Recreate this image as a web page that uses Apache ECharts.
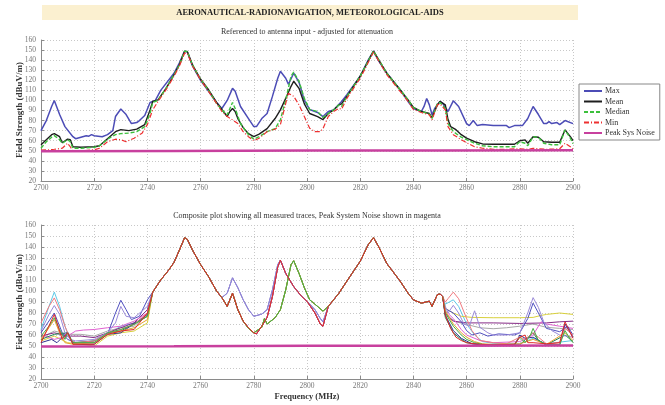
<!DOCTYPE html>
<html><head><meta charset="utf-8">
<script src="https://cdn.jsdelivr.net/npm/echarts@6/dist/echarts.min.js"></script>
<style>html,body{margin:0;padding:0;background:#fff}#c{width:665px;height:405px}</style>
</head><body><div id="c"></div>
<script>
// ---------- DATA ----------
const mainTitle = 'AERONAUTICAL-RADIONAVIGATION, METEOROLOGICAL-AIDS';
const topSubtitle = 'Referenced to antenna input - adjusted for attenuation';
const bottomSubtitle = 'Composite plot showing all measured traces, Peak System Noise shown in magenta';
const yAxisTitle = 'Field Strength (dBuV/m)';
const xAxisTitle = 'Frequency (MHz)';
const legendNames = ['Max', 'Mean', 'Median', 'Min', 'Peak Sys Noise'];

const maxTrace = [[2700,70],[2702,80],[2704,94],[2705,100],[2707,86],[2709,74],[2712,64],[2713,62],[2715,63.5],[2717,65],[2718,64.5],[2719,66],[2720,65],[2723,64],[2725,66],[2727,70],[2728,84],[2730,91.5],[2732,86],[2734,77],[2736,78],[2737,80],[2739,85],[2741,98],[2743,100],[2745,110],[2750,127],[2752,137],[2754,149],[2755,148],[2757,134],[2760,120],[2763,109],[2766,98],[2768,92],[2770,100],[2772,112],[2773,109],[2775,94],[2778,82],[2780,74],[2781,74],[2783,82],[2785,87],[2787,104],[2789,122],[2790,129],[2792,122],[2793,116],[2795,127],[2797,118],[2799,100],[2801,91],[2804,88],[2806,84],[2808,89],[2810,90.5],[2813,99],[2815,105.6],[2820,124],[2823,140],[2825,149],[2827,139],[2830,127],[2835,110.6],[2838,99],[2840,92],[2843,89],[2844,94],[2845,102],[2846,95.6],[2847,85.7],[2848,92],[2850,99],[2851,97],[2853,89],[2855,99.6],[2857,94],[2860,77],[2861,75],[2862.5,80],[2864,75],[2866,76],[2870,75],[2875,75],[2876,73],[2878,75],[2881,75],[2883,82],[2885,94],[2887,86],[2889,77],[2890,77],[2891,79],[2892,77],[2894,78],[2895,76],[2897,80],[2900,77]];
const meanTrace = [[2700,56],[2702,61],[2704,66],[2705,67],[2707,64],[2708,58],[2710,61.5],[2711,61],[2712,54],[2715,53.5],[2720,54],[2722,55],[2725,62],[2728,69],[2730,71],[2733,70],[2736,71.5],[2739,76],[2741,90.6],[2742,99],[2744,100.6],[2747,112],[2750,125.5],[2752,135.4],[2754,148.7],[2755,148.7],[2757,135],[2760,121],[2763,110.6],[2766,98],[2768,91],[2770,84],[2771,89],[2772,92],[2773,89],[2774,82],[2776,73],[2778,67],[2780,64],[2782,66.5],[2785,72],[2788,82],[2790,90.6],[2792,102],[2794,114],[2795,119],[2797,112],[2799,96.6],[2801,87],[2804,84],[2806,81],[2808,87],[2810,90.5],[2812,95.6],[2813,96.6],[2815,104],[2820,124],[2825,149],[2830,127],[2835,110.6],[2838,100.6],[2840,93],[2843,89],[2846,87],[2847,83],[2849,95.6],[2850,99],[2852,95.6],[2853,81],[2854,74],[2856,71],[2858,66],[2860,62.5],[2863,59],[2866,56.8],[2870,56.5],[2878,56.5],[2880,60],[2882,60.8],[2883,57.5],[2885,64],[2887,63.5],[2889,59],[2892,58.5],[2895,58.5],[2897,70.7],[2899,64],[2900,60]];
const medianTrace = [[2700,52.5],[2702,59],[2704,63.5],[2705,65],[2707,61],[2708,57.5],[2710,61],[2711,59],[2712,52.5],[2715,52.5],[2720,53.5],[2722,55],[2725,61.5],[2728,66],[2730,67],[2733,67.5],[2736,69],[2739,74],[2741,87],[2742,98],[2744,100],[2747,112],[2750,125.5],[2752,135],[2754,149],[2755,148.5],[2757,135],[2760,121],[2763,110],[2766,97],[2768,90.6],[2770,85.7],[2772,98],[2773,92],[2775,77],[2778,66],[2780,61.5],[2782,64],[2785,69],[2788,72],[2790,80.7],[2792,100.6],[2794,124],[2795,128],[2797,119],[2799,102],[2801,91],[2804,89],[2806,83],[2808,87],[2810,90.5],[2812,95.6],[2813,94],[2815,104],[2820,124],[2825,149],[2830,127],[2835,110.6],[2838,100.6],[2840,93],[2843,89],[2846,86.7],[2847,82],[2849,97],[2850,98],[2852,92],[2853,77],[2855,69],[2858,63.5],[2860,61],[2863,57.5],[2866,55],[2870,54],[2878,54],[2880,59],[2882,57.5],[2883,55],[2885,64],[2887,63.5],[2889,57.5],[2892,56],[2895,56],[2897,70.7],[2899,62.5],[2900,57]];
const minTrace = [[2700,50.8],[2703,51],[2705,51.5],[2708,52.5],[2710,57.5],[2711,54],[2712,50],[2715,50],[2720,51],[2722,52.5],[2725,59],[2728,61.5],[2730,61],[2732,59],[2735,62.5],[2738,67.5],[2740,76],[2742,90.6],[2744,99],[2747,110.6],[2750,124],[2752,134],[2754,147],[2755,147],[2757,134],[2760,120.5],[2763,109],[2766,97],[2768,89],[2770,84],[2772,80.7],[2774,77],[2776,69],[2778,64],[2780,60],[2782,62.5],[2785,69],[2788,71.4],[2790,76],[2792,97],[2793,107],[2795,104],[2797,95.6],[2799,84],[2801,72.4],[2803,69],[2805,69],[2806,72],[2808,84],[2810,89],[2812,92],[2813,91.3],[2815,102],[2820,122],[2825,148],[2830,125.5],[2835,109],[2838,99],[2840,91],[2843,88],[2846,85.7],[2847,80.7],[2849,95.6],[2850,96.6],[2852,90.6],[2853,74],[2855,66],[2858,61],[2860,58],[2863,54],[2866,52.5],[2870,51.5],[2875,51.5],[2880,52],[2883,51.5],[2885,52.5],[2890,51.5],[2895,52],[2897,57.5],[2899,54],[2900,51.5]];
const noiseTrace = [[2700,49.5],[2750,49.8],[2800,50.2],[2850,50.3],[2900,50.5]];

// Composite traces: segments
const riseCommon = [[2742,99],[2745,110],[2748,119],[2750,126],[2752,137],[2754,148.5],[2755,147],[2757,137],[2760,124],[2763,113],[2766,100],[2768,94]];
const midA = [[2770,98],[2772,112],[2774,103],[2776,92],[2778,83],[2780,77],[2783,79],[2785,83],[2787,101],[2789,124],[2790,128],[2792,116],[2795,104],[2798,95],[2800,90.7],[2803,83],[2805,75],[2806,72]];
const midB = [[2770,86],[2772,98],[2774,83],[2776,72.6],[2778,66.6],[2780,62],[2781,61],[2783,68],[2785,76],[2787,95],[2789,122],[2790,128],[2792,116],[2795,104],[2798,95],[2800,90.7],[2803,80],[2805,70],[2806,68]];
const midC = [[2770,86],[2772,98],[2774,83],[2776,72.6],[2778,66],[2780,62],[2783,67],[2784,75],[2785,70],[2788,75.7],[2790,83],[2792,101],[2794,124],[2795,127.5],[2797,116],[2799,103],[2801,92],[2803,88],[2806,81.7]];
const secondCommon = [[2808,86],[2810,92],[2812,98],[2815,109],[2820,127],[2823,142],[2825,148.5],[2827,140],[2830,125],[2835,109],[2838,98],[2840,92],[2843,89],[2846,90.7],[2847,86],[2849,96.7],[2850,97.3],[2851,95]];

const cyanLeft = [[2700,65],[2703,86],[2705,99],[2707,86],[2709,68],[2711,56],[2713,53],[2720,54.6],[2725,60.6],[2730,68],[2735,71],[2740,83]];
const cyanRight = [[2852,88],[2855,92],[2857,86],[2860,70],[2863,60],[2866,54],[2870,52.5],[2880,52],[2885,57],[2890,52],[2900,55]];
const pinkLeft = [[2700,71],[2703,86],[2705,93.7],[2707,83],[2709,68],[2711,56],[2713,53],[2720,54.6],[2725,62],[2730,65],[2735,69.6],[2740,80]];
const pinkRight = [[2852,90],[2853,93],[2855,99],[2857,93],[2860,75],[2862,64],[2865,55],[2870,53],[2875,52],[2880,58],[2882,56],[2885,62],[2887,58],[2890,52],[2895,53],[2897,66],[2900,60]];
const purpleLeft = [[2700,63.6],[2703,78.7],[2705,86.8],[2707,78.7],[2709,62],[2711,56],[2713,54.6],[2720,56],[2725,62],[2728,71],[2730,86],[2732,77],[2735,75.7],[2740,86]];
const purpleRight = [[2852,86],[2853,80],[2855,87],[2857,80],[2859,70],[2861,68],[2863,82],[2865,67],[2868,62],[2870,60],[2875,60],[2880,62],[2883,80],[2885,94],[2887,85],[2889,72],[2892,64],[2895,60],[2900,58]];
const blueLeft = [[2700,62],[2705,80],[2708,62],[2710,56],[2713,53],[2720,53],[2725,60.6],[2728,80],[2730,91.6],[2732,83],[2734,74],[2737,77],[2740,92]];
const blueRight = [[2852,84],[2855,80],[2858,72],[2860,64],[2862,60],[2865,62],[2868,59],[2872,61],[2878,60],[2880,62],[2883,75],[2885,89],[2887,80],[2890,66],[2895,63],[2898,68],[2900,60]];
const greenLeft = [[2700,59],[2703,68],[2705,75.7],[2707,65],[2709,56],[2710,62],[2712,53],[2720,53],[2725,62],[2730,65],[2735,69.6],[2740,77]];
const greenRight = [[2852,80],[2855,68],[2858,60],[2860,56],[2863,53],[2866,51.5],[2870,51],[2878,51],[2880,58],[2882,53],[2884,60],[2885,66],[2887,55],[2890,51],[2895,51],[2897,64],[2899,56],[2900,53]];
const orangeLeft = [[2700,56],[2703,66.6],[2705,74],[2707,62],[2709,53],[2712,51.6],[2720,53],[2725,60.6],[2730,63.6],[2735,66.6],[2740,74]];
const orangeRight = [[2852,82],[2855,70],[2858,62],[2860,58],[2863,54],[2866,52],[2870,51.5],[2880,52],[2885,56],[2890,51.5],[2897,62],[2900,55]];
const yellowLeft = [[2700,54.6],[2705,59],[2710,53],[2715,51.6],[2720,50],[2725,59],[2730,62],[2735,63.6],[2740,71]];
const yellowRight = [[2852,84],[2855,80],[2858,77],[2862,76],[2870,75.7],[2880,75.7],[2885,76],[2888,77.8],[2890,78.7],[2895,80],[2900,78.7]];
const redLeft = [[2700,53],[2705,78.7],[2708,56],[2710,62],[2712,51.6],[2720,51.6],[2725,60.6],[2730,63.6],[2735,65],[2740,80]];
const redRight = [[2852,78],[2854,66],[2856,58],[2858,55],[2860,53],[2865,51.5],[2870,51],[2878,51.5],[2880,58],[2882,60],[2883,53],[2885,53],[2890,52],[2895,53],[2897,72],[2899,62],[2900,57]];
const plumLeft = [[2700,59],[2705,62],[2710,59],[2715,59],[2720,57.6],[2725,62],[2730,66.6],[2735,71],[2740,83]];
const plumRight = [[2852,80],[2855,72.6],[2860,71],[2870,71],[2880,70.5],[2890,71],[2895,72],[2900,72.6]];
const grayLeft = [[2700,57.6],[2705,63.6],[2710,60.6],[2715,60.6],[2720,59],[2725,63.6],[2730,66.6],[2735,68],[2740,78.7]];
const grayRight = [[2852,78],[2856,72],[2860,69.6],[2865,66.6],[2870,65.7],[2875,66.6],[2880,68],[2885,70],[2890,67],[2895,66],[2900,65]];
const orchidLeft = [[2700,60.6],[2705,56],[2710,59],[2713,63.6],[2716,64.5],[2720,65],[2725,66.6],[2730,68],[2735,72.6],[2740,80]];
const orchidRight = [[2852,82],[2855,75],[2858,65],[2860,60],[2865,55],[2870,53],[2880,54],[2885,60],[2888,72],[2890,70],[2895,68],[2900,66]];
const forestLeft = [[2700,56],[2705,60.6],[2710,62],[2712,53],[2720,54.6],[2725,62],[2730,63.6],[2740,77]];
const forestRight = [[2852,76],[2855,62],[2858,56],[2860,53],[2865,51],[2870,50.5],[2880,51],[2883,58],[2885,62],[2887,55],[2890,51],[2897,60],[2900,54]];
const navyLeft = [[2700,53],[2704,56],[2706,53],[2710,62.7],[2712,51.6],[2720,51.6],[2725,60.6],[2730,62],[2740,78.7]];
const navyRight = [[2852,78],[2855,64],[2858,57],[2862,52],[2870,51],[2878,51],[2880,60],[2882,57],[2885,58],[2890,51],[2895,51],[2897,70],[2900,58]];

// ---------- CHART ----------
const FONT = '"Liberation Serif", "DejaVu Serif", serif';
const composite = [
  {name:'cyan',   color:'#5cc8e6', parts:[cyanLeft, riseCommon, midB, secondCommon, cyanRight]},
  {name:'gray',   color:'#a8a8a8', parts:[grayLeft, riseCommon, midC, secondCommon, grayRight]},
  {name:'plum',   color:'#862a86', parts:[plumLeft, riseCommon, midB, secondCommon, plumRight]},
  {name:'yellow', color:'#d8d03c', parts:[yellowLeft, riseCommon, midC, secondCommon, yellowRight]},
  {name:'orchid', color:'#e060d0', parts:[orchidLeft, riseCommon, midB, secondCommon, orchidRight]},
  {name:'forest', color:'#208050', parts:[forestLeft, riseCommon, midC, secondCommon, forestRight]},
  {name:'navy',   color:'#303090', parts:[navyLeft, riseCommon, midB, secondCommon, navyRight]},
  {name:'blue',   color:'#5050c0', parts:[blueLeft, riseCommon, midA, secondCommon, blueRight]},
  {name:'pink',   color:'#f07a80', parts:[pinkLeft, riseCommon, midB, secondCommon, pinkRight]},
  {name:'purple', color:'#9a8ad8', parts:[purpleLeft, riseCommon, midA, secondCommon, purpleRight]},
  {name:'orange', color:'#e8a030', parts:[orangeLeft, riseCommon, midC, secondCommon, orangeRight]},
  {name:'green',  color:'#44b044', parts:[greenLeft, riseCommon, midC, secondCommon, greenRight]},
  {name:'red',    color:'#e02828', parts:[redLeft, riseCommon, midB, secondCommon, redRight]}
];

function xAx(idx, withName) {
  const a = {
    gridIndex: idx, type: 'value', min: 2700, max: 2900, interval: 20,
    axisLine: {show: true, onZero: false, lineStyle: {color: '#8a8a8a', width: 1}},
    axisTick: {show: true, inside: true, length: 3, lineStyle: {color: '#8a8a8a'}},
    axisLabel: {fontFamily: FONT, fontSize: 7.5, color: '#777', margin: 3, formatter: v => String(v)},
    splitLine: {show: true, lineStyle: {color: '#c8c8c8', type: [1, 2], width: 1}}
  };
  if (withName) {
    a.name = xAxisTitle; a.nameLocation = 'middle'; a.nameGap = 13;
    a.nameTextStyle = {fontFamily: FONT, fontSize: 8.5, fontWeight: 'bold', color: '#333'};
  }
  return a;
}
function yAx(idx) {
  return {
    gridIndex: idx, type: 'value', min: 20, max: 160, interval: 10,
    axisLine: {show: true, onZero: false, lineStyle: {color: '#8a8a8a', width: 1}},
    axisTick: {show: true, inside: true, length: 3, lineStyle: {color: '#8a8a8a'}},
    axisLabel: {fontFamily: FONT, fontSize: 7.5, color: '#777', margin: 5, formatter: v => String(v)},
    splitLine: {show: true, lineStyle: {color: '#c8c8c8', type: [1, 2], width: 1}}
  };
}
function line(name, data, color, width, type, gi) {
  return {name, type: 'line', xAxisIndex: gi, yAxisIndex: gi, data, symbol: 'none', showSymbol: false,
    lineStyle: {color, width, type}, itemStyle: {color}, z: 3};
}
function yTitle(cy) {
  return {type: 'text', x: 20, y: cy, rotation: Math.PI / 2,
    style: {text: yAxisTitle, x: 0, y: 0, align: 'center', verticalAlign: 'middle',
      fontFamily: FONT, fontSize: 9, fontWeight: 'bold', fill: '#333'}};
}

const series = [
  line(legendNames[0], maxTrace, '#4c4cb6', 1.5, 'solid', 0),
  line(legendNames[1], meanTrace, '#1e1e1e', 1.4, 'solid', 0),
  line(legendNames[2], medianTrace, '#3cc03c', 1.4, [4, 2], 0),
  line(legendNames[3], minTrace, '#ee3030', 1.2, [5, 2, 1, 2], 0),
  line(legendNames[4], noiseTrace, '#c8409e', 2.5, 'solid', 0)
];
composite.forEach(t => {
  series.push(line(t.name, [].concat(...t.parts), t.color, 1, 'solid', 1));
});
series.push(line('noise2', noiseTrace, '#c8409e', 2.5, 'solid', 1));

const chart = echarts.init(document.getElementById('c'), null, {renderer: 'canvas'});
chart.setOption({
  animation: false,
  backgroundColor: '#fff',
  graphic: [
    {type: 'rect', shape: {x: 42, y: 5, width: 536, height: 15}, style: {fill: '#fbf0d0'}, z: 0},
    {type: 'text', style: {text: mainTitle, x: 310, y: 12.5, align: 'center', verticalAlign: 'middle',
      fontFamily: FONT, fontSize: 8.5, fontWeight: 'bold', fill: '#222'}},
    {type: 'text', style: {text: topSubtitle, x: 307, y: 32, align: 'center', verticalAlign: 'middle',
      fontFamily: FONT, fontSize: 8, fill: '#333'}},
    {type: 'text', style: {text: bottomSubtitle, x: 307, y: 216, align: 'center', verticalAlign: 'middle',
      fontFamily: FONT, fontSize: 8, fill: '#333'}},
    yTitle(110),
    yTitle(302)
  ],
  legend: {
    data: legendNames, orient: 'vertical', left: 579, top: 84,
    itemWidth: 18, itemHeight: 8, itemGap: 2.5, padding: [3, 5, 3, 4],
    borderColor: '#888', borderWidth: 1, backgroundColor: '#fff',
    itemStyle: {opacity: 0},
    textStyle: {fontFamily: FONT, fontSize: 8, color: '#333', padding: [0, 0, 0, -2]}
  },
  grid: [
    {left: 41, top: 40, width: 532, height: 141},
    {left: 41, top: 225, width: 532, height: 154}
  ],
  xAxis: [xAx(0, false), xAx(1, true)],
  yAxis: [yAx(0), yAx(1)],
  series
});
</script></body></html>
